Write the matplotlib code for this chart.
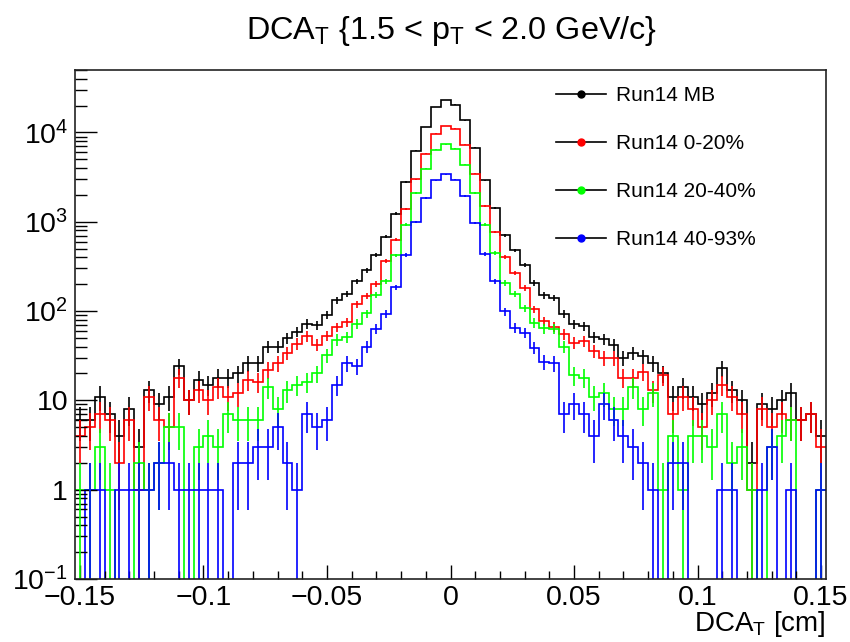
import numpy as np
import matplotlib
matplotlib.use("Agg")
import matplotlib.pyplot as plt
from matplotlib.lines import Line2D

plt.rcParams['font.family'] = ['Liberation Sans', 'DejaVu Sans']
plt.rcParams['mathtext.fontset'] = 'custom'
plt.rcParams['mathtext.rm'] = 'Liberation Sans'
plt.rcParams['mathtext.it'] = 'Liberation Sans:italic'
plt.rcParams['mathtext.bf'] = 'Liberation Sans:bold'

# ---------------- data ----------------
x_lo, x_hi, n_bins = -0.152, 0.152, 76

run14_mb = [6, 6, 11, 7, 4, 8, 3, 13, 9, 11, 24, 10, 17,
            15, 18, 18, 20, 26, 26, 40, 40, 50, 59, 72, 70,
            91, 132, 155, 215, 285, 426, 678, 1234, 2785, 6209, 11470, 19220, 23070,
            20500, 13680, 6700, 2911, 1439, 705, 479, 331, 206, 150, 140, 93, 71,
            68, 51, 49, 42, 30, 34, 31, 26, 20, 11, 14, 11, 9, 12, 23, 13, 10, 2, 9, 8, 10, 12, 6, 7, 4]

run14_0_20 = [4, 5, 7, 6, 2, 6, 1, 11, 6, 5, 18, 10, 13,
              10, 14, 11, 12, 17, 16, 22, 26, 34, 43, 52, 42,
              53, 66, 75, 120, 149, 201, 366, 630, 1402, 2972, 5737, 9720, 11760,
              11030, 7300, 3456, 1515, 768, 400, 267, 181, 105, 77, 67, 55, 44,
              46, 36, 30, 30, 18, 18, 21, 13, 19, 7, 11, 8, 5, 10, 15, 11, 7, 1, 8, 5, 7, 6, 6, 7, 3]

run14_20_40 = [1, 1, 3, 1, 0, 0, 2, 1, 2, 5, 5, 0, 3,
               4, 3, 7, 6, 6, 6, 14, 8, 13, 15, 16, 20,
               32, 48, 51, 72, 94, 153, 215, 420, 930, 2100, 3930, 6400, 7400,
               6530, 4357, 2117, 928, 447, 206, 155, 108, 74, 64, 63, 40, 19,
               18, 11, 12, 8, 8, 14, 8, 12, 1, 4, 1, 4, 4, 3, 7, 2, 3, 1, 0, 3, 4, 6, 0, 0, 1]

run14_40_93 = [0, 1, 1, 0, 1, 1, 1, 1, 2, 2, 1, 1, 1,
               1, 1, 0, 2, 2, 3, 3, 5, 2, 1, 7, 5,
               6, 15, 26, 24, 40, 63, 93, 184, 428, 1000, 1840, 2900, 3390,
               2960, 1928, 968, 435, 215, 99, 65, 57, 39, 27, 26, 7, 9,
               7, 4, 9, 6, 4, 3, 2, 1, 0, 2, 2, 0, 0, 0, 1, 1, 0, 0, 1, 3, 0, 1, 0, 0, 1]

labels = ["Run14 MB", "Run14 0-20%", "Run14 20-40%", "Run14 40-93%"]
colors = ["#000000", "#ff0000", "#00ff00", "#0000ff"]
series = [run14_mb, run14_0_20, run14_20_40, run14_40_93]

x_ticks = [-0.15, -0.1, -0.05, 0, 0.05, 0.1, 0.15]
x_ticklabels = ["\u22120.15", "\u22120.1", "\u22120.05", "0", "0.05", "0.1", "0.15"]
y_ticks = [0.1, 1, 10, 100, 1000, 10000]
y_ticklabels = [r"$10^{-1}$", "1", "10", r"$10^{2}$", r"$10^{3}$", r"$10^{4}$"]

# ---------------- figure ----------------
W, H = 850, 642
fig = plt.figure(figsize=(W / 100, H / 100), dpi=100)
ax = fig.add_axes([75 / W, 1 - 579 / H, (826 - 75) / W, (579 - 70) / H])

edges = np.linspace(x_lo, x_hi, n_bins + 1)
centers = 0.5 * (edges[:-1] + edges[1:])
floor = 1e-3
for vals, col in zip(series, colors):
    v = np.asarray(vals, dtype=float)
    ax.stairs(np.where(v > 0, v, floor), edges, color=col, lw=1.2, baseline=None)
    m = v > 0
    e = np.sqrt(v[m])
    ax.vlines(centers[m], np.maximum(v[m] - e, floor), v[m] + e, color=col, lw=1.2)

ax.set_yscale("log")
ax.set_xlim(x_lo, x_hi)
ax.set_ylim(0.1, 5e4)

ax.set_xticks(x_ticks)
ax.set_xticklabels(x_ticklabels)
ax.set_xticks(np.arange(-0.15, 0.1501, 0.01), minor=True)
ax.set_yticks(y_ticks)
ax.set_yticklabels(y_ticklabels)
ax.yaxis.set_minor_locator(matplotlib.ticker.LogLocator(base=10, subs=np.arange(2, 10)))
ax.yaxis.set_minor_formatter(matplotlib.ticker.NullFormatter())

ax.tick_params(axis="x", which="major", direction="in", length=10, width=1.0, labelsize=20.5, pad=4)
ax.tick_params(axis="x", which="minor", direction="in", length=5.5, width=1.0)
ax.tick_params(axis="y", which="major", direction="in", length=16, width=1.0, labelsize=20.5, pad=5)
ax.tick_params(axis="y", which="minor", direction="in", length=8.5, width=1.0)
ax.tick_params(top=False, right=False, which="both")
for s in ax.spines.values():
    s.set_linewidth(1.2)
    s.set_color("#222222")

ax.set_xlabel(r"DCA$_{\mathrm{T}}$ [cm]", fontsize=20, loc="right", labelpad=-1)

fig.text(452 / W, 1 - 31 / H, r"DCA$_{\mathrm{T}}$ {1.5 < p$_{\mathrm{T}}$ < 2.0 GeV/c}",
         ha="center", va="center", fontsize=23.3)

handles = [Line2D([0], [0], color="black", lw=1.2, marker="o", markersize=5,
                  markerfacecolor=c, markeredgecolor=c) for c in colors]
ax.legend(handles, labels, loc="upper left", bbox_to_anchor=(0.63, 0.985), frameon=False,
          fontsize=15, handlelength=2.4, handletextpad=0.45, labelspacing=1.4,
          borderaxespad=0)

fig.savefig("out.png", dpi=100)
